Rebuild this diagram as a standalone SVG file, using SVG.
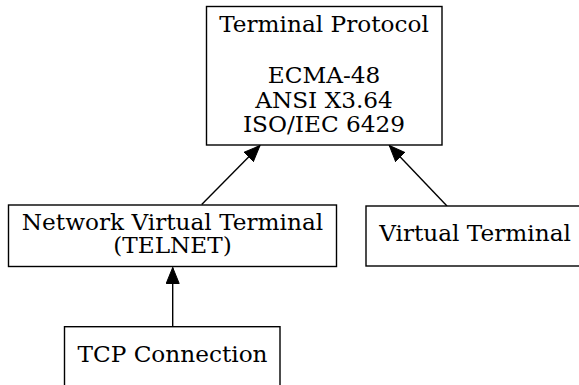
<svg xmlns="http://www.w3.org/2000/svg" width="579" height="385" viewBox="0 0 579 385">
<style>
.box{fill:#fff;stroke:#000;stroke-width:1.4}
.lbl{font-family:"DejaVu Serif",serif;font-size:23.2px;text-anchor:middle;fill:#000}
.edge{fill:none;stroke:#000;stroke-width:1.4}
</style>
<defs>
<marker id="ah" markerUnits="userSpaceOnUse" markerWidth="18" markerHeight="14" refX="16" refY="7" orient="auto">
<path d="M0,0.5 L16,7 L0,13.5 Z" fill="#000" stroke="#000" stroke-width="1"/>
</marker>
</defs>
<rect width="579" height="385" fill="#fff"/>
<g id="edges">
<line class="edge" x1="201.7" y1="204.5" x2="260" y2="145.5" marker-end="url(#ah)"/>
<line class="edge" x1="447" y1="206" x2="389.3" y2="145.5" marker-end="url(#ah)"/>
<line class="edge" x1="172.7" y1="326.5" x2="172.7" y2="267.5" marker-end="url(#ah)"/>
</g>
<g id="terminal-protocol">
<rect class="box" x="206.5" y="6.5" width="235.5" height="138.5"/>
<text class="lbl" x="324" y="32">Terminal Protocol</text>
<text class="lbl" x="324" y="83">ECMA-48</text>
<text class="lbl" x="324" y="108">ANSI X3.64</text>
<text class="lbl" x="324" y="132">ISO/IEC 6429</text>
</g>
<g id="nvt">
<rect class="box" x="8.5" y="205" width="328" height="61.5"/>
<text class="lbl" x="172.5" y="230">Network Virtual Terminal</text>
<text class="lbl" x="172.5" y="253">(TELNET)</text>
</g>
<g id="virtual-terminal">
<rect class="box" x="366" y="206" width="216" height="60"/>
<text class="lbl" x="475" y="241">Virtual Terminal</text>
</g>
<g id="tcp">
<rect class="box" x="64.5" y="326.7" width="215.5" height="70"/>
<text class="lbl" x="172.5" y="361.5">TCP Connection</text>
</g>
</svg>
